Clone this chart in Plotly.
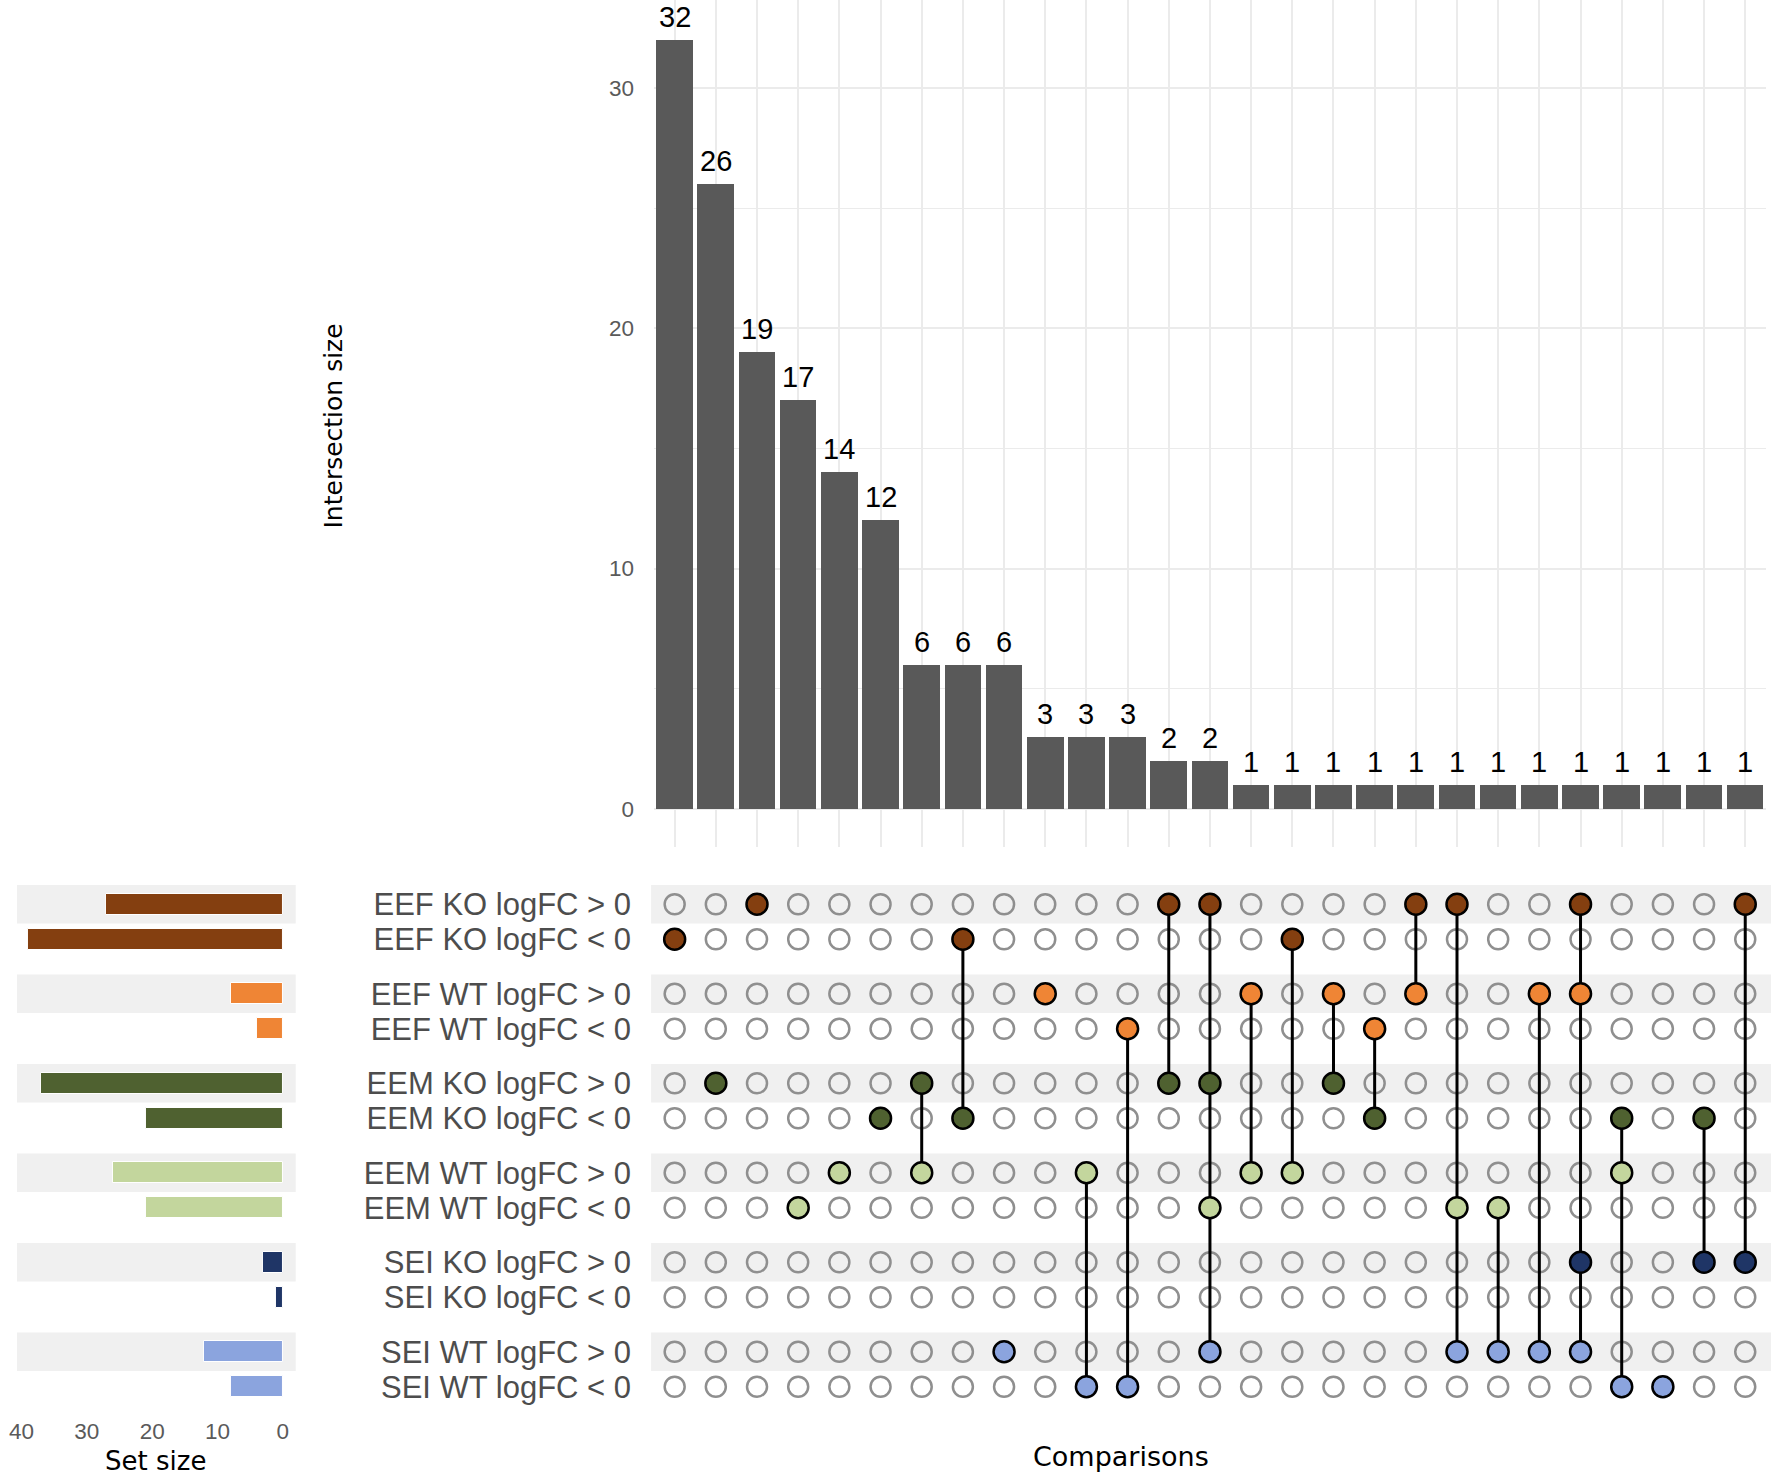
import plotly.graph_objects as go

# ---------------- data ----------------
sets = ["EEF KO logFC > 0", "EEF KO logFC < 0", "EEF WT logFC > 0", "EEF WT logFC < 0",
        "EEM KO logFC > 0", "EEM KO logFC < 0", "EEM WT logFC > 0", "EEM WT logFC < 0",
        "SEI KO logFC > 0", "SEI KO logFC < 0", "SEI WT logFC > 0", "SEI WT logFC < 0"]
set_sizes = [27, 39, 8, 4, 37, 21, 26, 21, 3, 1, 12, 8]
set_colors = ["#843F10", "#843F10", "#EF8535", "#EF8535",
              "#4F6130", "#4F6130", "#C3D69D", "#C3D69D",
              "#1F3566", "#1F3566", "#8BA4DE", "#8BA4DE"]
intersection_sizes = [32, 26, 19, 17, 14, 12, 6, 6, 6, 3, 3, 3, 2, 2,
                      1, 1, 1, 1, 1, 1, 1, 1, 1, 1, 1, 1, 1]
# members of each intersection (indices into `sets`)
memberships = [[1], [4], [0], [7], [6], [5], [4, 6], [1, 5], [10], [2], [6, 11], [3, 11],
               [0, 4], [0, 4, 7, 10], [2, 6], [1, 6], [2, 4], [3, 5], [0, 2], [0, 7, 10],
               [7, 10], [2, 10], [0, 2, 8, 10], [5, 6, 11], [11], [5, 8], [0, 8]]
size_ticks = [0, 10, 20, 30, 40]
count_ticks = [0, 10, 20, 30]

# ---------------- geometry helpers ----------------
W, H = 1771, 1476
PAIR = 2.557
ypos = [(i // 2) * PAIR + (i % 2) for i in range(len(sets))]
ncol = len(intersection_sizes)
cols = list(range(ncol))

FONT = "Liberation Sans, Arial, sans-serif"
TFONT = "DejaVu Sans, Verdana, sans-serif"
GRID = "#ebebeb"
BAND = "#f0f0f0"

fig = go.Figure()

# top intersection bars
fig.add_trace(go.Bar(
    x=cols, y=intersection_sizes, width=0.89,
    marker=dict(color="#595959", line=dict(width=0)),
    xaxis="x", yaxis="y", showlegend=False, hoverinfo="skip"))

# matrix: empty circles
ex, ey = [], []
for c, mem in enumerate(memberships):
    for s in range(len(sets)):
        if s not in mem:
            ex.append(c)
            ey.append(ypos[s])
fig.add_trace(go.Scatter(
    x=ex, y=ey, mode="markers",
    marker=dict(symbol="circle-open", size=20, color="#8f8f8f",
                line=dict(width=2.5, color="#8f8f8f")),
    xaxis="x2", yaxis="y2", showlegend=False, hoverinfo="skip"))

# matrix: connecting lines
lx, ly = [], []
for c, mem in enumerate(memberships):
    if len(mem) > 1:
        ys = [ypos[s] for s in mem]
        lx += [c, c, None]
        ly += [min(ys), max(ys), None]
fig.add_trace(go.Scatter(
    x=lx, y=ly, mode="lines", line=dict(color="black", width=3),
    xaxis="x2", yaxis="y2", showlegend=False, hoverinfo="skip"))

# matrix: filled dots
fx, fy, fc = [], [], []
for c, mem in enumerate(memberships):
    for s in mem:
        fx.append(c)
        fy.append(ypos[s])
        fc.append(set_colors[s])
fig.add_trace(go.Scatter(
    x=fx, y=fy, mode="markers",
    marker=dict(symbol="circle", size=21, color=fc, line=dict(width=2.5, color="black")),
    xaxis="x2", yaxis="y2", showlegend=False, hoverinfo="skip"))

# set size bars
fig.add_trace(go.Bar(
    x=set_sizes, y=ypos, orientation="h", width=0.6,
    marker=dict(color=set_colors, line=dict(width=1, color="white")),
    xaxis="x3", yaxis="y3", showlegend=False, hoverinfo="skip"))

# ---------------- layout ----------------
px = lambda v: v / W
py = lambda v: 1 - v / H

mx0, mx1 = 649.0, 1765.8
top_bottom = 847.0
mat_top, mat_bot = 880.0, 1408.0
row0 = 904.3
unit = 35.0
yr_top = (mat_top - row0) / unit
yr_bot = (mat_bot - row0) / unit

left0, left1 = 9.0, 289.0
zero_x = 276.0
per10 = 65.6
xr_left = (zero_x - left0) / per10 * 10
xr_right = -(left1 - zero_x) / per10 * 10

zero_y = 808.7
per10y = 240.2
y_top = zero_y / per10y * 10
y_bot = -(top_bottom - zero_y) / per10y * 10

shapes = []
for k in range(0, len(sets), 2):
    shapes.append(dict(type="rect", xref="paper", yref="y2", x0=px(646), x1=1.0,
                       y0=ypos[k] - 0.55, y1=ypos[k] + 0.55,
                       fillcolor=BAND, line=dict(width=0), layer="below"))
    shapes.append(dict(type="rect", xref="paper", yref="y3", x0=px(left0), x1=px(left1),
                       y0=ypos[k] - 0.55, y1=ypos[k] + 0.55,
                       fillcolor=BAND, line=dict(width=0), layer="below"))

annotations = [
    dict(text=str(v), xref="x", yref="y", x=c, y=v, yanchor="bottom", xanchor="center",
         yshift=5, showarrow=False, font=dict(size=29, color="black", family=FONT))
    for c, v in zip(cols, intersection_sizes)
]
annotations += [
    dict(text="Intersection size", xref="paper", yref="paper", x=px(327), y=py(426),
         textangle=-90, showarrow=False, font=dict(size=25, family=TFONT, color="black"),
         xanchor="center", yanchor="middle"),
    dict(text="Comparisons", xref="paper", yref="paper", x=px(1118), y=py(1456),
         showarrow=False, font=dict(size=27, family=TFONT, color="black"),
         xanchor="center", yanchor="middle"),
    dict(text="Set size", xref="paper", yref="paper", x=px(148), y=py(1461),
         showarrow=False, font=dict(size=26, family=TFONT, color="black"),
         xanchor="center", yanchor="middle"),
]

fig.update_layout(
    width=W, height=H, margin=dict(l=0, r=0, t=0, b=0),
    paper_bgcolor="white", plot_bgcolor="white",
    font=dict(family=FONT, color="#4d4d4d"),
    bargap=0,
    shapes=shapes,
    annotations=annotations,
    xaxis=dict(domain=[px(mx0), px(mx1)], range=[-0.5, ncol - 0.5], anchor="y",
               tickvals=cols, showticklabels=False, ticks="",
               showgrid=True, gridcolor=GRID, gridwidth=2, zeroline=False, showline=False),
    yaxis=dict(domain=[py(top_bottom), 1.0], range=[y_bot, y_top], anchor="x",
               tickvals=count_ticks, ticks="", ticklabelstandoff=19,
               tickfont=dict(size=22.5, color="#5a5a5a", family=FONT),
               showgrid=True, gridcolor=GRID, gridwidth=2, zeroline=False, showline=False,
               minor=dict(dtick=5, tick0=0, showgrid=True, gridcolor=GRID, gridwidth=1.2)),
    xaxis2=dict(domain=[px(mx0), px(mx1)], range=[-0.5, ncol - 0.5], anchor="y2",
                showticklabels=False, ticks="", showgrid=False, zeroline=False, showline=False),
    yaxis2=dict(domain=[py(mat_bot), py(mat_top)], range=[yr_bot, yr_top], anchor="x2",
                tickvals=ypos, ticktext=sets, ticks="", ticklabelstandoff=22,
                tickfont=dict(size=31, color="#4d4d4d", family=FONT),
                showgrid=False, zeroline=False, showline=False),
    xaxis3=dict(domain=[px(left0), px(left1)], range=[xr_left, xr_right], anchor="y3",
                tickvals=size_ticks, ticks="", ticklabelstandoff=7,
                tickfont=dict(size=22.5, color="#5a5a5a", family=FONT),
                showgrid=False, zeroline=False, showline=False),
    yaxis3=dict(domain=[py(mat_bot), py(mat_top)], range=[yr_bot, yr_top], anchor="x3",
                showticklabels=False, ticks="", showgrid=False, zeroline=False, showline=False),
)

fig.write_html("out.html", config={"displayModeBar": False},
               post_script="document.body.style.margin='0';document.body.style.overflow='hidden';")
